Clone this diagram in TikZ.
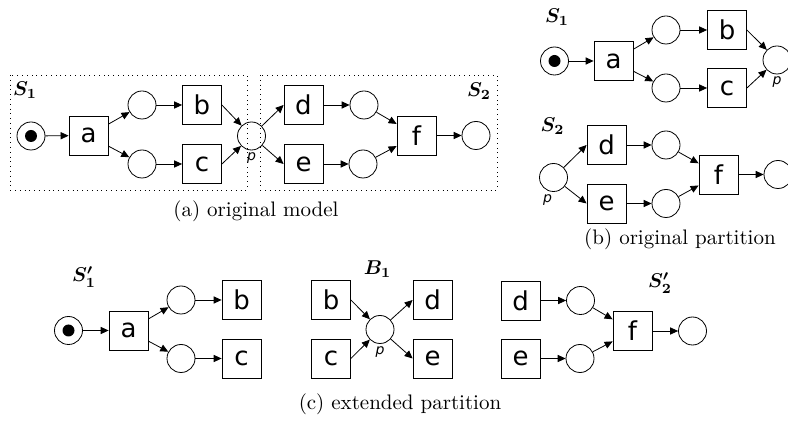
\documentclass[tikz,border=0pt]{standalone}
\usepackage{amsmath}
\usepackage{fontspec}
\newfontfamily\netfont{DejaVu Sans}
\usetikzlibrary{arrows.meta}

\begin{document}
\begin{tikzpicture}[x=0.5pt,y=-0.5pt,
    place/.style={draw,circle,minimum size=14pt,inner sep=0pt},
    trans/.style={draw,minimum size=19.5pt,inner sep=0pt,font=\netfont\fontsize{13}{15}\selectfont},
    token/.style={fill,circle,minimum size=6pt,inner sep=0pt},
    flow/.style={-{Triangle[length=4pt,width=3.6pt]}},
    partname/.style={font=\fontsize{10}{12}\selectfont},
    captext/.style={font=\fontsize{10.5}{12}\selectfont},
    plab/.style={font=\netfont\itshape\fontsize{7}{8}\selectfont,inner sep=1pt},
    partbox/.style={dotted}]
  \useasboundingbox (0,0) rectangle (788,422);

  % (a) original model
  \draw[partbox] (10,75) rectangle (247,190);
  \draw[partbox] (260,75) rectangle (497,190);
  \node[partname] (sa1) at (25,90) {$\boldsymbol{S_1}$};
  \node[partname] (sa2) at (479,91) {$\boldsymbol{S_2}$};
  \node[place] (ia) at (31,136) {};
  \node[token] (ta) at (ia) {};
  \node[trans] (aa) at (88.5,135.5) {a};
  \node[place] (ua) at (142,105) {};
  \node[place] (la) at (142,164) {};
  \node[trans] (ba) at (202,105) {b};
  \node[trans] (ca) at (202,164) {c};
  \node[place,label={[plab]below:p}] (pa) at (251.5,136) {};
  \node[trans] (da) at (303.5,105) {d};
  \node[trans] (ea) at (303.5,164) {e};
  \node[place] (ma) at (364,105) {};
  \node[place] (na) at (363,164) {};
  \node[trans] (fa) at (416.5,135.5) {f};
  \node[place] (oa) at (476,135.5) {};
  \draw[flow] (ia) -- (aa);
  \draw[flow] (aa) -- (ua);
  \draw[flow] (aa) -- (la);
  \draw[flow] (ua) -- (ba);
  \draw[flow] (la) -- (ca);
  \draw[flow] (ba.east) -- (pa);
  \draw[flow] (ca.east) -- (pa);
  \draw[flow] (pa) -- (da.west);
  \draw[flow] (pa) -- (ea.west);
  \draw[flow] (da) -- (ma);
  \draw[flow] (ea) -- (na);
  \draw[flow] (ma) -- (fa);
  \draw[flow] (na) -- (fa);
  \draw[flow] (fa) -- (oa);
  \node[captext] (capa) at (256,211) {(a) original model};

  % (b) original partition, S1
  \node[partname] (sb1) at (557,17) {$\boldsymbol{S_1}$};
  \node[place] (ib) at (554.5,61) {};
  \node[token] (tb) at (ib) {};
  \node[trans] (ab) at (613.5,61) {a};
  \node[place] (ub) at (666,30) {};
  \node[place] (lb) at (666,88) {};
  \node[trans] (bb) at (727,30) {b};
  \node[trans] (cb) at (727,88) {c};
  \node[place,label={[plab]below:p}] (pb) at (777,60) {};
  \draw[flow] (ib) -- (ab);
  \draw[flow] (ab) -- (ub);
  \draw[flow] (ab) -- (lb);
  \draw[flow] (ub) -- (bb);
  \draw[flow] (lb) -- (cb);
  \draw[flow] (bb.east) -- (pb);
  \draw[flow] (cb.east) -- (pb);
  % (b) original partition, S2
  \node[partname] (sb2) at (552.5,126) {$\boldsymbol{S_2}$};
  \node[place,label={[plab,xshift=-3pt]below:p}] (qb) at (553.5,177.5) {};
  \node[trans] (db) at (606.5,145) {d};
  \node[trans] (eb) at (606.5,203.5) {e};
  \node[place] (mb) at (666,145) {};
  \node[place] (nb) at (666,203.5) {};
  \node[trans] (fb) at (718.5,174.5) {f};
  \node[place] (ob) at (778,174.5) {};
  \draw[flow] (qb) -- (db.west);
  \draw[flow] (qb) -- (eb.west);
  \draw[flow] (db) -- (mb);
  \draw[flow] (eb) -- (nb);
  \draw[flow] (mb) -- (fb);
  \draw[flow] (nb) -- (fb);
  \draw[flow] (fb) -- (ob);
  \node[captext] (capb) at (680,239) {(b) original partition};

  % (c) extended partition, S'1
  \node[partname] (sc1) at (84,277) {$\boldsymbol{S'_1}$};
  \node[place] (ic) at (68.5,330.5) {};
  \node[token] (tc) at (ic) {};
  \node[trans] (ac) at (128.5,330.5) {a};
  \node[place] (uc) at (181,300) {};
  \node[place] (lc) at (181,358.5) {};
  \node[trans] (bc) at (241.5,300) {b};
  \node[trans] (cc) at (241.5,358.5) {c};
  \draw[flow] (ic) -- (ac);
  \draw[flow] (ac) -- (uc);
  \draw[flow] (ac) -- (lc);
  \draw[flow] (uc) -- (bc);
  \draw[flow] (lc) -- (cc);
  % (c) extended partition, B1
  \node[partname] (bnd) at (377.5,269) {$\boldsymbol{B_1}$};
  \node[trans] (bd) at (331,300) {b};
  \node[trans] (cd) at (331,358.5) {c};
  \node[place,label={[plab]below:p}] (pd) at (380,329.5) {};
  \node[trans] (dd) at (432.5,300) {d};
  \node[trans] (ed) at (432.5,358.5) {e};
  \draw[flow] (bd.east) -- (pd);
  \draw[flow] (cd.east) -- (pd);
  \draw[flow] (pd) -- (dd.west);
  \draw[flow] (pd) -- (ed.west);
  % (c) extended partition, S'2
  \node[partname] (sc2) at (660,283) {$\boldsymbol{S'_2}$};
  \node[trans] (de) at (520.5,300.5) {d};
  \node[trans] (ee) at (520.5,358.5) {e};
  \node[place] (me) at (580.5,300.5) {};
  \node[place] (ne) at (580,358.5) {};
  \node[trans] (fe) at (632.5,331) {f};
  \node[place] (oe) at (692.5,331) {};
  \draw[flow] (de) -- (me);
  \draw[flow] (ee) -- (ne);
  \draw[flow] (me) -- (fe);
  \draw[flow] (ne) -- (fe);
  \draw[flow] (fe) -- (oe);
  \node[captext] (capc) at (400,404) {(c) extended partition};
\end{tikzpicture}
\end{document}
